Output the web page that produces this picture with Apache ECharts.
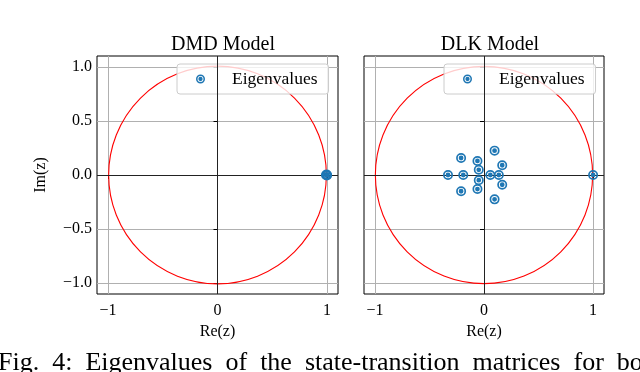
<!DOCTYPE html>
<html>
<head>
<meta charset="utf-8">
<script src="https://cdn.jsdelivr.net/npm/echarts@6/dist/echarts.min.js"></script>
<style>
  html, body { margin: 0; padding: 0; background: #fff; }
  #main { width: 640px; height: 372px; }
</style>
</head>
<body>
<div id="main"></div>
<script>
// eigenvalues
var dmdRe = [0.990, 0.996, 1.000, 0.998];
var dmdIm = [0.000, 0.004, 0.000, -0.004];
var dlkRe = [-0.33, -0.19, -0.21, -0.21, -0.06, -0.06, -0.048, -0.048, 0.058, 0.136, 0.097, 0.097, 0.167, 0.167, 1.0];
var dlkIm = [0.0, 0.0, 0.157, -0.15, 0.13, -0.13, 0.048, -0.048, 0.0, 0.0, 0.225, -0.225, 0.09, -0.09, 0.0];
// unit circle: centre x, centre y, radius
var unitCircle = [[0, 0, 1]];
var xTicks = [-1, 0, 1];
var yTicks = [-1, -0.5, 0, 0.5, 1];
var titles = ['DMD Model', 'DLK Model'];

var serif = 'Liberation Serif';
var blue = '#1f77b4';
// filled circle with a white ring inside
var eigSymbol = 'path://M0,-10A10,10 0 1,1 0,10A10,10 0 1,1 0,-10Z' +
  'M0,-6.6A6.6,6.6 0 1,0 0,6.6A6.6,6.6 0 1,0 0,-6.6Z' +
  'M0,-4.8A4.8,4.8 0 1,1 0,4.8A4.8,4.8 0 1,1 0,-4.8Z';

function pairs(xs, ys) {
  var out = [];
  for (var i = 0; i < xs.length; i++) out.push([xs[i], ys[i]]);
  return out;
}
function fmt(v, digits) {
  var s = digits ? Math.abs(v).toFixed(digits) : String(Math.abs(v));
  return v < 0 ? '\u2212' + s : s;
}

var grids = [
  { left: 97, top: 56, width: 241, height: 238 },
  { left: 364, top: 56, width: 240, height: 238 }
];

function xAxisFor(i) {
  return {
    gridIndex: i, type: 'value', min: -1.1, max: 1.1,
    name: 'Re(z)', nameLocation: 'middle', nameGap: 30,
    nameTextStyle: { fontFamily: serif, fontSize: 16, color: '#000' },
    axisLine: { show: false },
    axisTick: { show: true, inside: false, length: 4, customValues: xTicks, lineStyle: { color: '#000' } },
    axisLabel: { customValues: xTicks, margin: 9, fontFamily: serif, fontSize: 16, color: '#000',
      formatter: function (v) { return fmt(v, 0); } },
    splitLine: { show: true, lineStyle: { color: '#b0b0b0', width: 1 } }
  };
}
function yAxisFor(i) {
  return {
    gridIndex: i, type: 'value', min: -1.1, max: 1.1,
    name: i === 0 ? 'Im(z)' : '', nameLocation: 'middle', nameGap: 48,
    nameTextStyle: { fontFamily: serif, fontSize: 16, color: '#000' },
    axisLine: { show: false },
    axisTick: { show: true, inside: false, length: 4, customValues: yTicks, lineStyle: { color: '#000' } },
    axisLabel: { show: i === 0, customValues: yTicks, margin: 5, fontFamily: serif, fontSize: 16, color: '#000',
      formatter: function (v) { return fmt(v, 1); } },
    splitLine: { show: true, lineStyle: { color: '#b0b0b0', width: 1 } }
  };
}

function circleSeries(i) {
  return {
    type: 'custom', xAxisIndex: i, yAxisIndex: i, silent: true, z: 3,
    data: unitCircle,
    renderItem: function (params, api) {
      var c = api.coord([api.value(0), api.value(1)]);
      var s = api.size([api.value(2), api.value(2)]);
      return {
        type: 'circle',
        shape: { cx: c[0], cy: c[1], r: (s[0] + s[1]) / 2 },
        style: { fill: 'none', stroke: '#ff0000', lineWidth: 1.1 }
      };
    }
  };
}

function eigSeries(i, data) {
  return {
    name: 'Eigenvalues', type: 'scatter', xAxisIndex: i, yAxisIndex: i, z: 5,
    symbol: eigSymbol, symbolSize: 10,
    itemStyle: { color: blue, opacity: 1 },
    data: data,
    markLine: {
      silent: true, symbol: 'none', label: { show: false },
      lineStyle: { color: '#222', width: 1, type: 'solid' },
      data: [{ xAxis: 0 }, { yAxis: 0 }]
    }
  };
}

function legendFor(i, left) {
  return {
    data: [{ name: 'Eigenvalues', icon: eigSymbol }],
    left: left, top: 64,
    orient: 'vertical',
    itemWidth: 9, itemHeight: 9,
    padding: [6, 11, 6, 19],
    backgroundColor: 'rgba(255,255,255,0.8)',
    borderColor: '#cccccc', borderWidth: 1, borderRadius: 3,
    textStyle: { fontFamily: serif, fontSize: 17.5, color: '#000', padding: [0, 0, 0, 22] },
    selectedMode: false
  };
}

var chart = echarts.init(document.getElementById('main'), null, { renderer: 'canvas' });
chart.setOption({
  backgroundColor: '#fff',
  animation: false,
  title: [
    { text: titles[0], left: 218, top: 30, textAlign: 'center',
      textStyle: { fontFamily: serif, fontSize: 20, fontWeight: 'normal', color: '#000' } },
    { text: titles[1], left: 485, top: 30, textAlign: 'center',
      textStyle: { fontFamily: serif, fontSize: 20, fontWeight: 'normal', color: '#000' } }
  ],
  grid: grids.map(function (g) {
    return { left: g.left, top: g.top, width: g.width, height: g.height,
      show: true, borderColor: '#000', borderWidth: 1, backgroundColor: 'transparent' };
  }),
  legend: [legendFor(0, 177), legendFor(1, 444)],
  xAxis: [xAxisFor(0), xAxisFor(1)],
  yAxis: [yAxisFor(0), yAxisFor(1)],
  graphic: [{
    type: 'text', left: -2, top: 350, silent: true,
    style: { text: 'Fig.  4:  Eigenvalues  of  the  state-transition  matrices  for  both',
      fontFamily: serif, fontSize: 26, fill: '#000' }
  }],
  series: [
    circleSeries(0), circleSeries(1),
    eigSeries(0, pairs(dmdRe, dmdIm)),
    eigSeries(1, pairs(dlkRe, dlkIm))
  ]
});
</script>
</body>
</html>
